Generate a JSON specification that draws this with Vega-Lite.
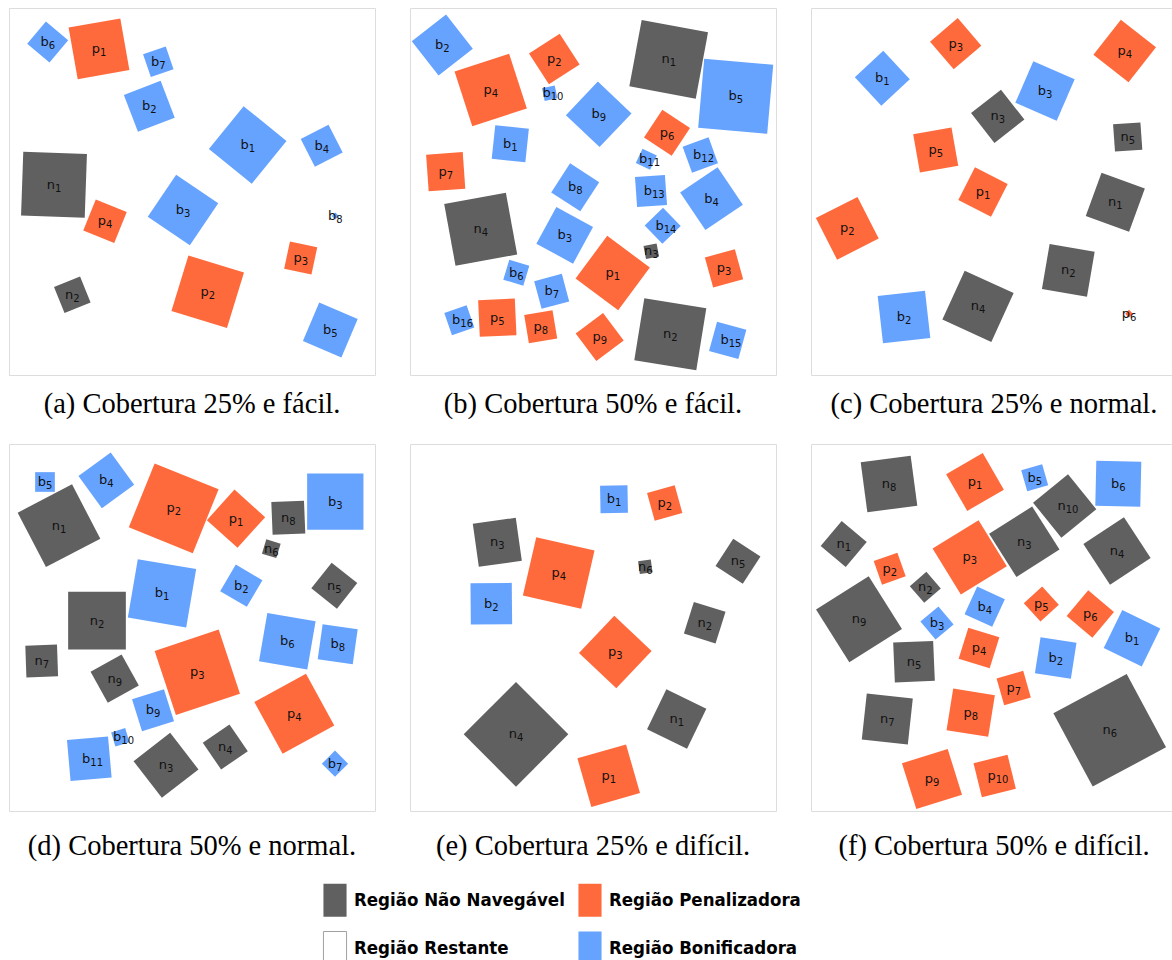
{
  "$schema": "https://vega.github.io/schema/vega-lite/v6.json",
  "padding": {"left": 8, "top": 7, "right": 0, "bottom": 0},
  "background": "white",
  "datasets": {
    "squares": [
      {"panel":"a","tipo":"Região Bonificadora","letra":"b","idx":"6","x":38.7,"y":34,"side":29.1,"angle":40},
      {"panel":"a","tipo":"Região Penalizadora","letra":"p","idx":"1","x":90,"y":40.8,"side":52.5,"angle":80},
      {"panel":"a","tipo":"Região Bonificadora","letra":"b","idx":"7","x":149.3,"y":53.7,"side":24,"angle":71},
      {"panel":"a","tipo":"Região Bonificadora","letra":"b","idx":"2","x":140.3,"y":98.3,"side":39.4,"angle":69},
      {"panel":"a","tipo":"Região Bonificadora","letra":"b","idx":"1","x":238.7,"y":137,"side":55.2,"angle":39},
      {"panel":"a","tipo":"Região Bonificadora","letra":"b","idx":"4","x":312.7,"y":137.7,"side":31.2,"angle":63},
      {"panel":"a","tipo":"Região Não Navegável","letra":"n","idx":"1","x":45,"y":176.7,"side":63.7,"angle":2},
      {"panel":"a","tipo":"Região Penalizadora","letra":"p","idx":"4","x":96,"y":213.3,"side":33.4,"angle":22},
      {"panel":"a","tipo":"Região Bonificadora","letra":"b","idx":"3","x":174,"y":202,"side":50.8,"angle":34},
      {"panel":"a","tipo":"Região Bonificadora","letra":"b","idx":"8","x":326.3,"y":208,"side":5,"angle":45},
      {"panel":"a","tipo":"Região Penalizadora","letra":"p","idx":"3","x":291.7,"y":250,"side":27.9,"angle":12},
      {"panel":"a","tipo":"Região Não Navegável","letra":"n","idx":"2","x":63.3,"y":286.7,"side":28.1,"angle":68},
      {"panel":"a","tipo":"Região Penalizadora","letra":"p","idx":"2","x":198.7,"y":283.7,"side":58.1,"angle":17},
      {"panel":"a","tipo":"Região Bonificadora","letra":"b","idx":"5","x":321.3,"y":322,"side":41.8,"angle":23},

      {"panel":"b","tipo":"Região Bonificadora","letra":"b","idx":"2","x":32.3,"y":37,"side":43.5,"angle":52},
      {"panel":"b","tipo":"Região Penalizadora","letra":"p","idx":"4","x":80.7,"y":82,"side":57.4,"angle":72},
      {"panel":"b","tipo":"Região Penalizadora","letra":"p","idx":"2","x":144.3,"y":51,"side":36.6,"angle":57},
      {"panel":"b","tipo":"Região Bonificadora","letra":"b","idx":"10","x":139.7,"y":85.3,"side":13,"angle":78},
      {"panel":"b","tipo":"Região Não Navegável","letra":"n","idx":"1","x":258.7,"y":51.3,"side":67.5,"angle":10.5},
      {"panel":"b","tipo":"Região Bonificadora","letra":"b","idx":"5","x":325.7,"y":88.3,"side":69.3,"angle":5},
      {"panel":"b","tipo":"Região Bonificadora","letra":"b","idx":"9","x":188.7,"y":106.3,"side":46.4,"angle":43.5},
      {"panel":"b","tipo":"Região Bonificadora","letra":"b","idx":"1","x":100.3,"y":135.7,"side":33.8,"angle":6},
      {"panel":"b","tipo":"Região Penalizadora","letra":"p","idx":"6","x":257,"y":124.7,"side":33.2,"angle":33.5},
      {"panel":"b","tipo":"Região Bonificadora","letra":"b","idx":"12","x":290.3,"y":147,"side":27.6,"angle":70},
      {"panel":"b","tipo":"Região Bonificadora","letra":"b","idx":"11","x":236.3,"y":151.3,"side":15.8,"angle":25},
      {"panel":"b","tipo":"Região Penalizadora","letra":"p","idx":"7","x":35.7,"y":163.7,"side":36.7,"angle":86},
      {"panel":"b","tipo":"Região Bonificadora","letra":"b","idx":"8","x":165.2,"y":179.3,"side":34.7,"angle":33},
      {"panel":"b","tipo":"Região Bonificadora","letra":"b","idx":"13","x":241,"y":183,"side":30,"angle":86},
      {"panel":"b","tipo":"Região Bonificadora","letra":"b","idx":"4","x":301.5,"y":190.7,"side":45.2,"angle":56},
      {"panel":"b","tipo":"Região Não Navegável","letra":"n","idx":"4","x":70.7,"y":221.3,"side":62.7,"angle":79.6},
      {"panel":"b","tipo":"Região Bonificadora","letra":"b","idx":"3","x":154.7,"y":227.3,"side":41.8,"angle":28.6},
      {"panel":"b","tipo":"Região Bonificadora","letra":"b","idx":"14","x":252.7,"y":217.7,"side":25.5,"angle":46},
      {"panel":"b","tipo":"Região Não Navegável","letra":"n","idx":"3","x":241.3,"y":243.3,"side":13.3,"angle":79},
      {"panel":"b","tipo":"Região Penalizadora","letra":"p","idx":"1","x":202.7,"y":265,"side":53.1,"angle":36.6},
      {"panel":"b","tipo":"Região Penalizadora","letra":"p","idx":"3","x":314,"y":260.3,"side":31.1,"angle":74.5},
      {"panel":"b","tipo":"Região Bonificadora","letra":"b","idx":"6","x":106.3,"y":264.7,"side":20.9,"angle":16.7},
      {"panel":"b","tipo":"Região Bonificadora","letra":"b","idx":"7","x":141.7,"y":283.3,"side":28.6,"angle":75},
      {"panel":"b","tipo":"Região Bonificadora","letra":"b","idx":"16","x":49.3,"y":312.3,"side":23.6,"angle":71},
      {"panel":"b","tipo":"Região Penalizadora","letra":"p","idx":"5","x":87.3,"y":309.7,"side":36.7,"angle":87.4},
      {"panel":"b","tipo":"Região Penalizadora","letra":"p","idx":"8","x":130.7,"y":318.7,"side":28.7,"angle":80.6},
      {"panel":"b","tipo":"Região Penalizadora","letra":"p","idx":"9","x":189.7,"y":329,"side":34.3,"angle":53},
      {"panel":"b","tipo":"Região Não Navegável","letra":"n","idx":"2","x":260.3,"y":326.3,"side":62.8,"angle":9.2},
      {"panel":"b","tipo":"Região Bonificadora","letra":"b","idx":"15","x":317.7,"y":332.3,"side":30.4,"angle":15.3},

      {"panel":"c","tipo":"Região Penalizadora","letra":"p","idx":"3","x":144.7,"y":35.7,"side":36.4,"angle":49.5},
      {"panel":"c","tipo":"Região Penalizadora","letra":"p","idx":"4","x":313.7,"y":43,"side":44.6,"angle":38},
      {"panel":"c","tipo":"Região Bonificadora","letra":"b","idx":"1","x":71.3,"y":70.3,"side":38.9,"angle":47},
      {"panel":"c","tipo":"Região Bonificadora","letra":"b","idx":"3","x":234,"y":83,"side":45.1,"angle":23.5},
      {"panel":"c","tipo":"Região Não Navegável","letra":"n","idx":"3","x":186.7,"y":108.3,"side":38,"angle":52},
      {"panel":"c","tipo":"Região Não Navegável","letra":"n","idx":"5","x":316.7,"y":129,"side":27.4,"angle":86},
      {"panel":"c","tipo":"Região Penalizadora","letra":"p","idx":"5","x":124.7,"y":142,"side":38.9,"angle":80},
      {"panel":"c","tipo":"Região Penalizadora","letra":"p","idx":"1","x":172,"y":184,"side":36.7,"angle":27},
      {"panel":"c","tipo":"Região Não Navegável","letra":"n","idx":"1","x":304.3,"y":194.3,"side":46.1,"angle":20},
      {"panel":"c","tipo":"Região Penalizadora","letra":"p","idx":"2","x":36.3,"y":220.3,"side":46.7,"angle":63},
      {"panel":"c","tipo":"Região Não Navegável","letra":"n","idx":"2","x":257.3,"y":262.3,"side":45.7,"angle":9.7},
      {"panel":"c","tipo":"Região Não Navegável","letra":"n","idx":"4","x":167,"y":298.3,"side":53.8,"angle":24.5},
      {"panel":"c","tipo":"Região Bonificadora","letra":"b","idx":"2","x":93,"y":309,"side":47.6,"angle":83.6},
      {"panel":"c","tipo":"Região Penalizadora","letra":"p","idx":"6","x":318,"y":305.7,"side":5.5,"angle":45},

      {"panel":"d","tipo":"Região Bonificadora","letra":"b","idx":"5","x":36,"y":38,"side":19.7,"angle":0},
      {"panel":"d","tipo":"Região Bonificadora","letra":"b","idx":"4","x":97.3,"y":36.3,"side":39.9,"angle":54},
      {"panel":"d","tipo":"Região Não Navegável","letra":"n","idx":"1","x":50,"y":81.7,"side":61.3,"angle":62.5},
      {"panel":"d","tipo":"Região Penalizadora","letra":"p","idx":"2","x":164.7,"y":64.3,"side":69,"angle":22},
      {"panel":"d","tipo":"Região Penalizadora","letra":"p","idx":"1","x":227,"y":74.7,"side":41.3,"angle":42},
      {"panel":"d","tipo":"Região Não Navegável","letra":"n","idx":"8","x":279.3,"y":73.7,"side":32.7,"angle":87.7},
      {"panel":"d","tipo":"Região Bonificadora","letra":"b","idx":"3","x":326.3,"y":57.7,"side":56.3,"angle":0},
      {"panel":"d","tipo":"Região Não Navegável","letra":"n","idx":"6","x":262.3,"y":104.7,"side":15,"angle":17},
      {"panel":"d","tipo":"Região Bonificadora","letra":"b","idx":"1","x":153,"y":149.3,"side":59.2,"angle":9.7},
      {"panel":"d","tipo":"Região Bonificadora","letra":"b","idx":"2","x":232.3,"y":141.7,"side":30.9,"angle":30.4},
      {"panel":"d","tipo":"Região Não Navegável","letra":"n","idx":"5","x":325.3,"y":141.7,"side":32.7,"angle":38.4},
      {"panel":"d","tipo":"Região Não Navegável","letra":"n","idx":"2","x":88,"y":176.7,"side":57.7,"angle":0},
      {"panel":"d","tipo":"Região Bonificadora","letra":"b","idx":"6","x":278.3,"y":197.3,"side":49,"angle":9.8},
      {"panel":"d","tipo":"Região Bonificadora","letra":"b","idx":"8","x":328.7,"y":200.3,"side":35.4,"angle":8},
      {"panel":"d","tipo":"Região Não Navegável","letra":"n","idx":"7","x":32.7,"y":217,"side":31.7,"angle":88},
      {"panel":"d","tipo":"Região Não Navegável","letra":"n","idx":"9","x":105.7,"y":234.7,"side":35.5,"angle":61},
      {"panel":"d","tipo":"Região Penalizadora","letra":"p","idx":"3","x":188.3,"y":228.3,"side":67.5,"angle":71.6},
      {"panel":"d","tipo":"Região Bonificadora","letra":"b","idx":"9","x":144,"y":266.3,"side":33.5,"angle":72.6},
      {"panel":"d","tipo":"Região Penalizadora","letra":"p","idx":"4","x":285.3,"y":269.7,"side":58.9,"angle":61.3},
      {"panel":"d","tipo":"Região Bonificadora","letra":"b","idx":"10","x":111.3,"y":293.3,"side":14.7,"angle":73},
      {"panel":"d","tipo":"Região Bonificadora","letra":"b","idx":"11","x":80.3,"y":314.7,"side":41.2,"angle":85},
      {"panel":"d","tipo":"Região Não Navegável","letra":"n","idx":"3","x":157,"y":321.3,"side":46.3,"angle":52.3},
      {"panel":"d","tipo":"Região Não Navegável","letra":"n","idx":"4","x":216.3,"y":303,"side":32.4,"angle":55.5},
      {"panel":"d","tipo":"Região Bonificadora","letra":"b","idx":"7","x":326,"y":319.7,"side":18.6,"angle":45},

      {"panel":"e","tipo":"Região Bonificadora","letra":"b","idx":"1","x":204,"y":55.3,"side":27.4,"angle":89},
      {"panel":"e","tipo":"Região Penalizadora","letra":"p","idx":"2","x":254.7,"y":59,"side":28.7,"angle":74.5},
      {"panel":"e","tipo":"Região Não Navegável","letra":"n","idx":"3","x":87.3,"y":98.3,"side":43.4,"angle":82},
      {"panel":"e","tipo":"Região Penalizadora","letra":"p","idx":"4","x":148.7,"y":129,"side":59.8,"angle":12.9},
      {"panel":"e","tipo":"Região Não Navegável","letra":"n","idx":"6","x":235.3,"y":122.7,"side":12.8,"angle":82},
      {"panel":"e","tipo":"Região Não Navegável","letra":"n","idx":"5","x":328,"y":117.3,"side":32.5,"angle":33},
      {"panel":"e","tipo":"Região Bonificadora","letra":"b","idx":"2","x":81.3,"y":159.7,"side":41.3,"angle":89.5},
      {"panel":"e","tipo":"Região Não Navegável","letra":"n","idx":"2","x":294.7,"y":178.7,"side":33.2,"angle":17.5},
      {"panel":"e","tipo":"Região Penalizadora","letra":"p","idx":"3","x":205.3,"y":208,"side":51.4,"angle":43.4},
      {"panel":"e","tipo":"Região Não Navegável","letra":"n","idx":"1","x":266.7,"y":275,"side":44.4,"angle":25.8},
      {"panel":"e","tipo":"Região Não Navegável","letra":"n","idx":"4","x":106,"y":290.3,"side":74,"angle":45},
      {"panel":"e","tipo":"Região Penalizadora","letra":"p","idx":"1","x":198.7,"y":331.7,"side":50.6,"angle":74},

      {"panel":"f","tipo":"Região Não Navegável","letra":"n","idx":"8","x":78,"y":40,"side":50.4,"angle":82.4},
      {"panel":"f","tipo":"Região Penalizadora","letra":"p","idx":"1","x":164,"y":38,"side":42.3,"angle":60},
      {"panel":"f","tipo":"Região Bonificadora","letra":"b","idx":"5","x":223.7,"y":33.7,"side":21.8,"angle":74},
      {"panel":"f","tipo":"Região Bonificadora","letra":"b","idx":"6","x":307.3,"y":39.7,"side":45,"angle":1.3},
      {"panel":"f","tipo":"Região Não Navegável","letra":"n","idx":"10","x":253.7,"y":62,"side":45,"angle":51},
      {"panel":"f","tipo":"Região Não Navegável","letra":"n","idx":"1","x":32.7,"y":100,"side":32.7,"angle":40},
      {"panel":"f","tipo":"Região Não Navegável","letra":"n","idx":"3","x":213.3,"y":97.7,"side":51,"angle":57.6},
      {"panel":"f","tipo":"Região Não Navegável","letra":"n","idx":"4","x":306,"y":107,"side":48.6,"angle":56.7},
      {"panel":"f","tipo":"Região Penalizadora","letra":"p","idx":"3","x":158.7,"y":113.3,"side":54,"angle":58.4},
      {"panel":"f","tipo":"Região Penalizadora","letra":"p","idx":"2","x":78.7,"y":124.7,"side":25.1,"angle":70.6},
      {"panel":"f","tipo":"Região Não Navegável","letra":"n","idx":"2","x":114.3,"y":143.3,"side":22,"angle":49},
      {"panel":"f","tipo":"Região Não Navegável","letra":"n","idx":"9","x":48,"y":175.3,"side":62.3,"angle":57.7},
      {"panel":"f","tipo":"Região Bonificadora","letra":"b","idx":"4","x":173.7,"y":162.7,"side":30.4,"angle":24.6},
      {"panel":"f","tipo":"Região Bonificadora","letra":"b","idx":"3","x":126,"y":179,"side":23.6,"angle":50},
      {"panel":"f","tipo":"Região Penalizadora","letra":"p","idx":"5","x":230.3,"y":160,"side":24.8,"angle":47.7},
      {"panel":"f","tipo":"Região Penalizadora","letra":"p","idx":"6","x":279.3,"y":170,"side":33.6,"angle":40},
      {"panel":"f","tipo":"Região Bonificadora","letra":"b","idx":"1","x":321,"y":194.3,"side":42.3,"angle":26},
      {"panel":"f","tipo":"Região Penalizadora","letra":"p","idx":"4","x":168,"y":204,"side":32.5,"angle":17.3},
      {"panel":"f","tipo":"Região Bonificadora","letra":"b","idx":"2","x":244.7,"y":214,"side":36.4,"angle":8.9},
      {"panel":"f","tipo":"Região Não Navegável","letra":"n","idx":"5","x":103,"y":217.7,"side":40,"angle":87.6},
      {"panel":"f","tipo":"Região Penalizadora","letra":"p","idx":"7","x":202.7,"y":244,"side":27.7,"angle":74},
      {"panel":"f","tipo":"Região Não Navegável","letra":"n","idx":"7","x":76.3,"y":275,"side":46.3,"angle":6.2},
      {"panel":"f","tipo":"Região Penalizadora","letra":"p","idx":"8","x":159.7,"y":268.7,"side":42.2,"angle":9.1},
      {"panel":"f","tipo":"Região Não Navegável","letra":"n","idx":"6","x":298.7,"y":286.3,"side":83.2,"angle":61.8},
      {"panel":"f","tipo":"Região Penalizadora","letra":"p","idx":"9","x":121,"y":335,"side":47.9,"angle":72.6},
      {"panel":"f","tipo":"Região Penalizadora","letra":"p","idx":"10","x":183.7,"y":332,"side":35,"angle":76.2}
    ]
  },
  "columns": 3,
  "spacing": {"row": 24, "column": 33},
  "concat": [
    {"title": "(a) Cobertura 25% e fácil.", "width": 366, "height": 367, "data": {"name": "squares"},
     "transform": [{"filter": "datum.panel === 'a'"}],
     "encoding": {
       "x": {"field": "x", "type": "quantitative", "scale": {"domain": [0, 366], "nice": false, "zero": false}, "axis": null},
       "y": {"field": "y", "type": "quantitative", "scale": {"domain": [0, 367], "nice": false, "zero": false, "reverse": true}, "axis": null}
     },
     "layer": [
       {"mark": {"type": "point", "shape": "square", "filled": true, "opacity": 1},
        "encoding": {
          "color": {"field": "tipo", "type": "nominal", "scale": {"domain": ["Região Não Navegável", "Região Restante", "Região Penalizadora", "Região Bonificadora"], "range": ["#606060", "#ffffff", "#ff6a3c", "#66a3ff"]},
            "legend": {"title": null, "orient": "none", "legendX": 309, "legendY": 875, "columns": 2, "symbolType": "M-0.7,-1H0.7V1H-0.7Z", "symbolSize": 1089, "labelFont": "DejaVu Sans Condensed, DejaVu Sans", "labelFontSize": 18.5, "labelFontWeight": "bold", "labelColor": "#000", "labelLimit": 500, "labelOffset": 2, "rowPadding": 10, "columnPadding": 8, "padding": 0, "symbolOpacity": 1, "symbolStrokeWidth": 1, "symbolStrokeColor": "#a0a0a0",
              "encode": {"symbols": {"update": {"stroke": {"signal": "datum.value === 'Região Restante' ? '#a0a0a0' : 'transparent'"}}}}}},
          "size": {"field": "side", "type": "quantitative", "scale": {"type": "pow", "exponent": 2, "domain": [0, 100], "range": [0, 10000]}, "legend": null},
          "angle": {"field": "angle", "type": "quantitative", "scale": {"domain": [0, 360], "range": [0, 360]}}
        }},
       {"mark": {"type": "text", "font": "DejaVu Sans", "fontSize": 13, "color": "#111", "align": "right", "baseline": "middle", "dx": 1},
        "encoding": {"text": {"field": "letra"}}},
       {"mark": {"type": "text", "font": "DejaVu Sans", "fontSize": 10, "color": "#111", "align": "left", "baseline": "middle", "dx": 1, "dy": 4},
        "encoding": {"text": {"field": "idx"}}}
     ]},
    {"title": "(b) Cobertura 50% e fácil.", "width": 366, "height": 367, "data": {"name": "squares"},
     "transform": [{"filter": "datum.panel === 'b'"}],
     "encoding": {
       "x": {"field": "x", "type": "quantitative", "scale": {"domain": [0, 366], "nice": false, "zero": false}, "axis": null},
       "y": {"field": "y", "type": "quantitative", "scale": {"domain": [0, 367], "nice": false, "zero": false, "reverse": true}, "axis": null}
     },
     "layer": [
       {"mark": {"type": "point", "shape": "square", "filled": true, "opacity": 1},
        "encoding": {
          "color": {"field": "tipo", "type": "nominal", "scale": {"domain": ["Região Não Navegável", "Região Restante", "Região Penalizadora", "Região Bonificadora"], "range": ["#606060", "#ffffff", "#ff6a3c", "#66a3ff"]}},
          "size": {"field": "side", "type": "quantitative", "scale": {"type": "pow", "exponent": 2, "domain": [0, 100], "range": [0, 10000]}, "legend": null},
          "angle": {"field": "angle", "type": "quantitative", "scale": {"domain": [0, 360], "range": [0, 360]}}
        }},
       {"mark": {"type": "text", "font": "DejaVu Sans", "fontSize": 13, "color": "#111", "align": "right", "baseline": "middle", "dx": 1},
        "encoding": {"text": {"field": "letra"}}},
       {"mark": {"type": "text", "font": "DejaVu Sans", "fontSize": 10, "color": "#111", "align": "left", "baseline": "middle", "dx": 1, "dy": 4},
        "encoding": {"text": {"field": "idx"}}}
     ]},
    {"title": "(c) Cobertura 25% e normal.", "width": 366, "height": 367, "data": {"name": "squares"},
     "transform": [{"filter": "datum.panel === 'c'"}],
     "encoding": {
       "x": {"field": "x", "type": "quantitative", "scale": {"domain": [0, 366], "nice": false, "zero": false}, "axis": null},
       "y": {"field": "y", "type": "quantitative", "scale": {"domain": [0, 367], "nice": false, "zero": false, "reverse": true}, "axis": null}
     },
     "layer": [
       {"mark": {"type": "point", "shape": "square", "filled": true, "opacity": 1},
        "encoding": {
          "color": {"field": "tipo", "type": "nominal", "scale": {"domain": ["Região Não Navegável", "Região Restante", "Região Penalizadora", "Região Bonificadora"], "range": ["#606060", "#ffffff", "#ff6a3c", "#66a3ff"]}},
          "size": {"field": "side", "type": "quantitative", "scale": {"type": "pow", "exponent": 2, "domain": [0, 100], "range": [0, 10000]}, "legend": null},
          "angle": {"field": "angle", "type": "quantitative", "scale": {"domain": [0, 360], "range": [0, 360]}}
        }},
       {"mark": {"type": "text", "font": "DejaVu Sans", "fontSize": 13, "color": "#111", "align": "right", "baseline": "middle", "dx": 1},
        "encoding": {"text": {"field": "letra"}}},
       {"mark": {"type": "text", "font": "DejaVu Sans", "fontSize": 10, "color": "#111", "align": "left", "baseline": "middle", "dx": 1, "dy": 4},
        "encoding": {"text": {"field": "idx"}}}
     ]},
    {"title": {"text": "(d) Cobertura 50% e normal.", "offset": 21}, "width": 366, "height": 367, "data": {"name": "squares"},
     "transform": [{"filter": "datum.panel === 'd'"}],
     "encoding": {
       "x": {"field": "x", "type": "quantitative", "scale": {"domain": [0, 366], "nice": false, "zero": false}, "axis": null},
       "y": {"field": "y", "type": "quantitative", "scale": {"domain": [0, 367], "nice": false, "zero": false, "reverse": true}, "axis": null}
     },
     "layer": [
       {"mark": {"type": "point", "shape": "square", "filled": true, "opacity": 1},
        "encoding": {
          "color": {"field": "tipo", "type": "nominal", "scale": {"domain": ["Região Não Navegável", "Região Restante", "Região Penalizadora", "Região Bonificadora"], "range": ["#606060", "#ffffff", "#ff6a3c", "#66a3ff"]}},
          "size": {"field": "side", "type": "quantitative", "scale": {"type": "pow", "exponent": 2, "domain": [0, 100], "range": [0, 10000]}, "legend": null},
          "angle": {"field": "angle", "type": "quantitative", "scale": {"domain": [0, 360], "range": [0, 360]}}
        }},
       {"mark": {"type": "text", "font": "DejaVu Sans", "fontSize": 13, "color": "#111", "align": "right", "baseline": "middle", "dx": 1},
        "encoding": {"text": {"field": "letra"}}},
       {"mark": {"type": "text", "font": "DejaVu Sans", "fontSize": 10, "color": "#111", "align": "left", "baseline": "middle", "dx": 1, "dy": 4},
        "encoding": {"text": {"field": "idx"}}}
     ]},
    {"title": {"text": "(e) Cobertura 25% e difícil.", "offset": 21}, "width": 366, "height": 367, "data": {"name": "squares"},
     "transform": [{"filter": "datum.panel === 'e'"}],
     "encoding": {
       "x": {"field": "x", "type": "quantitative", "scale": {"domain": [0, 366], "nice": false, "zero": false}, "axis": null},
       "y": {"field": "y", "type": "quantitative", "scale": {"domain": [0, 367], "nice": false, "zero": false, "reverse": true}, "axis": null}
     },
     "layer": [
       {"mark": {"type": "point", "shape": "square", "filled": true, "opacity": 1},
        "encoding": {
          "color": {"field": "tipo", "type": "nominal", "scale": {"domain": ["Região Não Navegável", "Região Restante", "Região Penalizadora", "Região Bonificadora"], "range": ["#606060", "#ffffff", "#ff6a3c", "#66a3ff"]}},
          "size": {"field": "side", "type": "quantitative", "scale": {"type": "pow", "exponent": 2, "domain": [0, 100], "range": [0, 10000]}, "legend": null},
          "angle": {"field": "angle", "type": "quantitative", "scale": {"domain": [0, 360], "range": [0, 360]}}
        }},
       {"mark": {"type": "text", "font": "DejaVu Sans", "fontSize": 13, "color": "#111", "align": "right", "baseline": "middle", "dx": 1},
        "encoding": {"text": {"field": "letra"}}},
       {"mark": {"type": "text", "font": "DejaVu Sans", "fontSize": 10, "color": "#111", "align": "left", "baseline": "middle", "dx": 1, "dy": 4},
        "encoding": {"text": {"field": "idx"}}}
     ]},
    {"title": {"text": "(f) Cobertura 50% e difícil.", "offset": 21}, "width": 366, "height": 367, "data": {"name": "squares"},
     "transform": [{"filter": "datum.panel === 'f'"}],
     "encoding": {
       "x": {"field": "x", "type": "quantitative", "scale": {"domain": [0, 366], "nice": false, "zero": false}, "axis": null},
       "y": {"field": "y", "type": "quantitative", "scale": {"domain": [0, 367], "nice": false, "zero": false, "reverse": true}, "axis": null}
     },
     "layer": [
       {"mark": {"type": "point", "shape": "square", "filled": true, "opacity": 1},
        "encoding": {
          "color": {"field": "tipo", "type": "nominal", "scale": {"domain": ["Região Não Navegável", "Região Restante", "Região Penalizadora", "Região Bonificadora"], "range": ["#606060", "#ffffff", "#ff6a3c", "#66a3ff"]}},
          "size": {"field": "side", "type": "quantitative", "scale": {"type": "pow", "exponent": 2, "domain": [0, 100], "range": [0, 10000]}, "legend": null},
          "angle": {"field": "angle", "type": "quantitative", "scale": {"domain": [0, 360], "range": [0, 360]}}
        }},
       {"mark": {"type": "text", "font": "DejaVu Sans", "fontSize": 13, "color": "#111", "align": "right", "baseline": "middle", "dx": 1},
        "encoding": {"text": {"field": "letra"}}},
       {"mark": {"type": "text", "font": "DejaVu Sans", "fontSize": 10, "color": "#111", "align": "left", "baseline": "middle", "dx": 1, "dy": 4},
        "encoding": {"text": {"field": "idx"}}}
     ]}
  ],
  "config": {
    "view": {"stroke": "#dddddd", "strokeWidth": 1},
    "title": {"orient": "bottom", "anchor": "middle", "font": "Liberation Serif", "fontSize": 28.5, "fontWeight": "normal", "color": "#000", "offset": 15}
  }
}
